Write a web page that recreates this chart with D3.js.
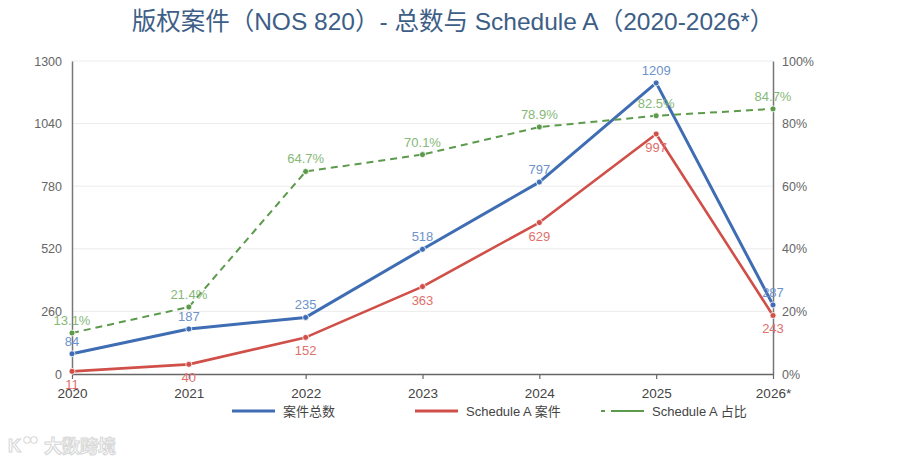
<!DOCTYPE html>
<html><head><meta charset="utf-8">
<script src="https://cdn.jsdelivr.net/npm/d3@7/dist/d3.min.js"></script>
<style>
body{margin:0;background:#fff;}
svg text{font-family:"Liberation Sans","Noto Sans CJK SC",sans-serif;}
</style></head>
<body><svg id="c" width="900" height="465"></svg>
<script>
const years = ["2020","2021","2022","2023","2024","2025","2026*"];
const totalCases = [84,187,235,518,797,1209,287];
const scheduleA = [11,40,152,363,629,997,243];
const scheduleAPct = [13.1,21.4,64.7,70.1,78.9,82.5,84.7];
const leftTicks = [0,260,520,780,1040,1300];
const rightTicks = [0,20,40,60,80,100];

const svg = d3.select("#c");
const L=72,R=773,T=61,B=374;
const x = d3.scalePoint().domain(years).range([L,R]);
const yL = d3.scaleLinear().domain([0,1300]).range([B,T]);
const yR = d3.scaleLinear().domain([0,100]).range([B,T]);

const cBlue="#3f6db3", cRed="#d04f48", cGreen="#5c9a4c";
const lBlue="#6e92cb", lRed="#e0706c", lGreen="#86b878";

svg.append("text").attr("x",453).attr("y",30).attr("text-anchor","middle")
  .attr("font-size",24.5).attr("fill","#3d5e86")
  .text("版权案件（NOS 820）- 总数与 Schedule A（2020-2026*）");

// grid
svg.append("g").selectAll("line").data(leftTicks.slice(1)).join("line")
  .attr("x1",L).attr("x2",R).attr("y1",d=>yL(d)).attr("y2",d=>yL(d))
  .attr("stroke","#ececec").attr("stroke-width",1);

// left axis
const gL = svg.append("g").attr("transform",`translate(${L},0)`)
  .call(d3.axisLeft(yL).tickValues(leftTicks).tickSize(0).tickPadding(10).tickFormat(d=>String(d)));
gL.select(".domain").attr("stroke","#777").attr("stroke-width",1.5);
gL.selectAll("text").attr("font-size",12.5).attr("fill","#666");

// right axis
const gR = svg.append("g").attr("transform",`translate(${R},0)`)
  .call(d3.axisRight(yR).tickValues(rightTicks).tickSize(0).tickPadding(9).tickFormat(d=>d+"%"));
gR.select(".domain").attr("stroke","#777").attr("stroke-width",1.5);
gR.selectAll("text").attr("font-size",12.5).attr("fill","#666");

// bottom axis
const gB = svg.append("g").attr("transform",`translate(0,${B})`)
  .call(d3.axisBottom(x).tickSize(5).tickPadding(9).tickSizeOuter(0));
gB.select(".domain").attr("stroke","#666").attr("stroke-width",1.5);
gB.selectAll(".tick line").attr("stroke","#666").attr("stroke-width",1.2);
gB.selectAll("text").attr("font-size",13.5).attr("fill","#444");

const lineL = d3.line().x((d,i)=>x(years[i])).y(d=>yL(d));
const lineR = d3.line().x((d,i)=>x(years[i])).y(d=>yR(d));

svg.append("path").datum(scheduleA).attr("d",lineL).attr("fill","none")
  .attr("stroke",cRed).attr("stroke-width",2.6).attr("stroke-linejoin","round");
svg.append("path").datum(totalCases).attr("d",lineL).attr("fill","none")
  .attr("stroke",cBlue).attr("stroke-width",3).attr("stroke-linejoin","round");
svg.append("path").datum(scheduleAPct).attr("d",lineR).attr("fill","none")
  .attr("stroke",cGreen).attr("stroke-width",2).attr("stroke-dasharray","7,5");

function dots(data,sc,col){
  svg.append("g").selectAll("circle").data(data).join("circle")
    .attr("cx",(d,i)=>x(years[i])).attr("cy",d=>sc(d)).attr("r",3)
    .attr("fill",col).attr("stroke","#fff").attr("stroke-width",0.8);
}
dots(scheduleA,yL,cRed);
dots(totalCases,yL,cBlue);
dots(scheduleAPct,yR,cGreen);

function labels(data,sc,col,dy,fmt){
  svg.append("g").selectAll("text").data(data).join("text")
    .attr("x",(d,i)=>x(years[i])).attr("y",d=>sc(d)+dy)
    .attr("text-anchor","middle").attr("font-size",13).attr("fill",col)
    .text(fmt);
}
labels(totalCases,yL,lBlue,-8,d=>d);
labels(scheduleA,yL,lRed,18,d=>d);
labels(scheduleAPct,yR,lGreen,-8,d=>d.toFixed(1)+"%");

// legend
const lg = svg.append("g");
const items=[
  {t:"案件总数",c:cBlue,x:232,dash:null,w:3},
  {t:"Schedule A 案件",c:cRed,x:415,dash:null,w:3},
  {t:"Schedule A 占比",c:cGreen,x:601,dash:"4,6,30,0",w:2}
];
items.forEach(it=>{
  lg.append("line").attr("x1",it.x).attr("x2",it.x+43).attr("y1",411).attr("y2",411)
    .attr("stroke",it.c).attr("stroke-width",it.w).attr("stroke-dasharray",it.dash);
  lg.append("text").attr("x",it.x+51).attr("y",415.5).attr("font-size",13)
    .attr("fill","#444").text(it.t);
});

// watermark
const wm = svg.append("g");
wm.append("text").attr("x",8).attr("y",452).attr("font-size",18).attr("font-weight","bold")
  .attr("fill","#fff").attr("stroke","#d8d8d8").attr("stroke-width",1.1).text("K");
wm.append("circle").attr("cx",27).attr("cy",440).attr("r",3.2).attr("fill","#fff").attr("stroke","#d8d8d8").attr("stroke-width",1.1);
wm.append("circle").attr("cx",34).attr("cy",440).attr("r",3.2).attr("fill","#fff").attr("stroke","#d8d8d8").attr("stroke-width",1.1);
wm.append("text").attr("x",44).attr("y",453).attr("font-size",18).attr("font-weight","bold")
  .attr("fill","#fff").attr("stroke","#d8d8d8").attr("stroke-width",1.1).text("大数跨境");
</script></body></html>
